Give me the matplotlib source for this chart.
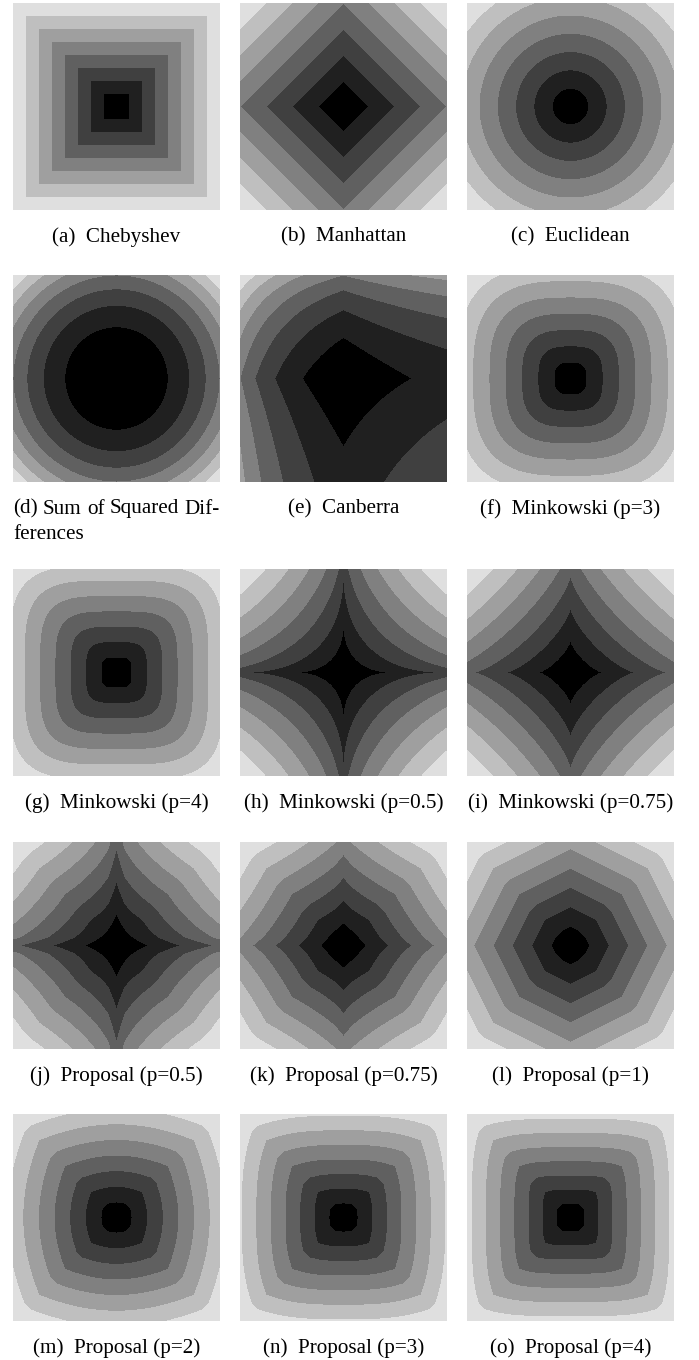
import numpy as np
import matplotlib
matplotlib.use('Agg')
import matplotlib.pyplot as plt

# panel captions, the metric drawn in each panel and its p parameter
CAPTIONS = ['(a)  Chebyshev', '(b)  Manhattan', '(c)  Euclidean',
            '(d) Sum of Squared Dif-\nferences', '(e)  Canberra', '(f)  Minkowski (p=3)',
            '(g)  Minkowski (p=4)', '(h)  Minkowski (p=0.5)', '(i)  Minkowski (p=0.75)',
            '(j)  Proposal (p=0.5)', '(k)  Proposal (p=0.75)', '(l)  Proposal (p=1)',
            '(m)  Proposal (p=2)', '(n)  Proposal (p=3)', '(o)  Proposal (p=4)']
METRICS = ['chebyshev', 'manhattan', 'euclidean',
           'ssd', 'canberra', 'minkowski',
           'minkowski', 'minkowski', 'minkowski',
           'proposal', 'proposal', 'proposal',
           'proposal', 'proposal', 'proposal']
P_VALUES = [None, None, None,
            None, None, 3,
            4, 0.5, 0.75,
            0.5, 0.75, 1,
            2, 3, 4]
# 8 gray bands, black at the reference point
GRAYS = ['0.0', '0.125', '0.25', '0.375', '0.5', '0.625', '0.75', '0.875']
CANBERRA_REF = 1.0


def distance_field(kind, p, n):
    if kind == 'canberra':
        v = np.linspace(0, 2 * CANBERRA_REF, n)
        X, Y = np.meshgrid(v, v)
        a = CANBERRA_REF
        Z = np.abs(X - a) / (np.abs(X) + a) + np.abs(Y - a) / (np.abs(Y) + a)
        return X, Y, Z
    v = np.linspace(-1, 1, n)
    X, Y = np.meshgrid(v, v)
    ax_, ay_ = np.abs(X), np.abs(Y)
    if kind == 'chebyshev':
        Z = np.maximum(ax_, ay_)
    elif kind == 'manhattan':
        Z = ax_ + ay_
    elif kind == 'euclidean':
        Z = np.hypot(ax_, ay_)
    elif kind == 'ssd':
        Z = ax_**2 + ay_**2
    elif kind == 'minkowski':
        Z = (ax_**p + ay_**p)**(1.0 / p)
    else:
        Z = (ax_**p + ay_**p)**(1.0 / p) + np.maximum(ax_, ay_)
    return X, Y, Z


W, H = 699, 1360
fig = plt.figure(figsize=(W / 100, H / 100), dpi=100)
fig.patch.set_facecolor('white')
renderer = fig.canvas.get_renderer()
font = dict(fontsize=15.2, family='Liberation Serif')

col_left = [13, 240, 467]
row_top = [3, 275, 569, 842, 1114]
size = 207

for i, (cap, kind, p) in enumerate(zip(CAPTIONS, METRICS, P_VALUES)):
    r, c = divmod(i, 3)
    left, top = col_left[c], row_top[r]
    ax = fig.add_axes([left / W, 1 - (top + size) / H, size / W, size / H])
    n = 25 if kind == 'proposal' else 401
    X, Y, Z = distance_field(kind, p, n)
    levels = np.linspace(0, Z.max(), len(GRAYS) + 1)
    ax.contourf(X, Y, Z, levels=levels, colors=GRAYS, antialiased=False)
    if kind == 'canberra':
        ax.set_ylim(Y.max(), Y.min())
    ax.set_axis_off()

    cy = 1 - (top + size + 27) / H
    if '\n' in cap:
        # justified first line, like the paper's narrow column
        first, second = cap.split('\n')
        words = [fig.text(0, cy, w, ha='left', va='center', **font)
                 for w in first.split()]
        widths = [t.get_window_extent(renderer).width for t in words]
        gap = (size - sum(widths)) / (len(words) - 1)
        x = left
        for t, wd in zip(words, widths):
            t.set_x(x / W)
            x += wd + gap
        fig.text(left / W, cy - 25 / H, second, ha='left', va='center', **font)
    else:
        fig.text((left + size / 2) / W, cy, cap, ha='center', va='center', **font)

fig.savefig('out.png', dpi=100)
